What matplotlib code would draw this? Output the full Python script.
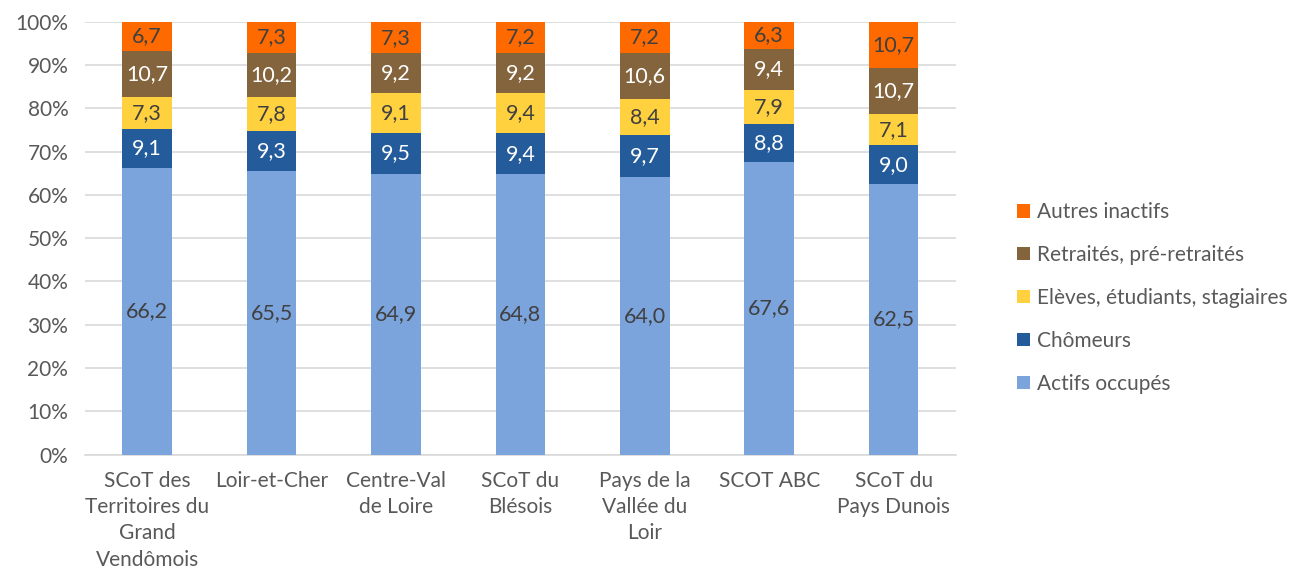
import numpy as np
import matplotlib
matplotlib.use("Agg")
import matplotlib.pyplot as plt

plt.rcParams["font.family"] = ["Lato", "DejaVu Sans"]

categories = [
    "SCoT des\nTerritoires du\nGrand\nVendômois",
    "Loir-et-Cher",
    "Centre-Val\nde Loire",
    "SCoT du\nBlésois",
    "Pays de la\nVallée du\nLoir",
    "SCOT ABC",
    "SCoT du\nPays Dunois",
]
series_names = [
    "Actifs occupés",
    "Chômeurs",
    "Elèves, étudiants, stagiaires",
    "Retraités, pré-retraités",
    "Autres inactifs",
]
actifs = [66.2, 65.5, 64.9, 64.8, 64.0, 67.6, 62.5]
chomeurs = [9.1, 9.3, 9.5, 9.4, 9.7, 8.8, 9.0]
eleves = [7.3, 7.8, 9.1, 9.4, 8.4, 7.9, 7.1]
retraites = [10.7, 10.2, 9.2, 9.2, 10.6, 9.4, 10.7]
autres = [6.7, 7.3, 7.3, 7.2, 7.2, 6.3, 10.7]

colors = ["#7BA3DC", "#245B9B", "#FFD13F", "#84643D", "#FF6A00"]
label_colors = ["#404040", "white", "#404040", "white", "#404040"]
text_gray = "#595959"

series = [actifs, chomeurs, eleves, retraites, autres]

fig = plt.figure(figsize=(12.9, 5.74), dpi=100)
ax = fig.add_axes([0.0659, 0.208, 0.675, 0.754])

x = np.arange(len(categories))
total = np.sum(np.array(series), axis=0)
bottom = np.zeros(len(categories))
handles = []
for vals, name, col, lc in zip(series, series_names, colors, label_colors):
    vals = np.array(vals)
    frac = vals / total * 100
    bars = ax.bar(x, frac, width=0.4, bottom=bottom, color=col, label=name, zorder=3)
    handles.append(bars)
    for xi, b, f, v in zip(x, bottom, frac, vals):
        ax.text(xi, b + f / 2, f"{v:.1f}".replace(".", ","), ha="center", va="center",
                color=lc, fontsize=15.5, zorder=4)
    bottom += frac

ax.set_xlim(-0.5, len(categories) - 0.5)
ax.set_ylim(0, 100)
ax.set_yticks(np.arange(0, 101, 10))
ax.set_yticklabels([f"{v}%" for v in range(0, 101, 10)])
ax.yaxis.grid(True, color="#D9D9D9", linewidth=1.2, zorder=0)
ax.set_xticks(x)
ax.set_xticklabels(categories, va="top", linespacing=1.38)
ax.tick_params(axis="both", length=0, labelsize=15, labelcolor=text_gray)
ax.tick_params(axis="x", pad=12)
ax.tick_params(axis="y", pad=12)
for s in ["top", "right", "left"]:
    ax.spines[s].set_visible(False)
ax.spines["bottom"].set_color("#D9D9D9")
ax.spines["bottom"].set_linewidth(1.2)

leg = fig.legend(handles[::-1], series_names[::-1], loc="center left",
                 bbox_to_anchor=(0.774, 0.481), frameon=False, fontsize=15,
                 handlelength=0.63, handleheight=0.63, handletextpad=0.3,
                 labelspacing=1.1, labelcolor=text_gray)

fig.savefig("out.png", dpi=100)
